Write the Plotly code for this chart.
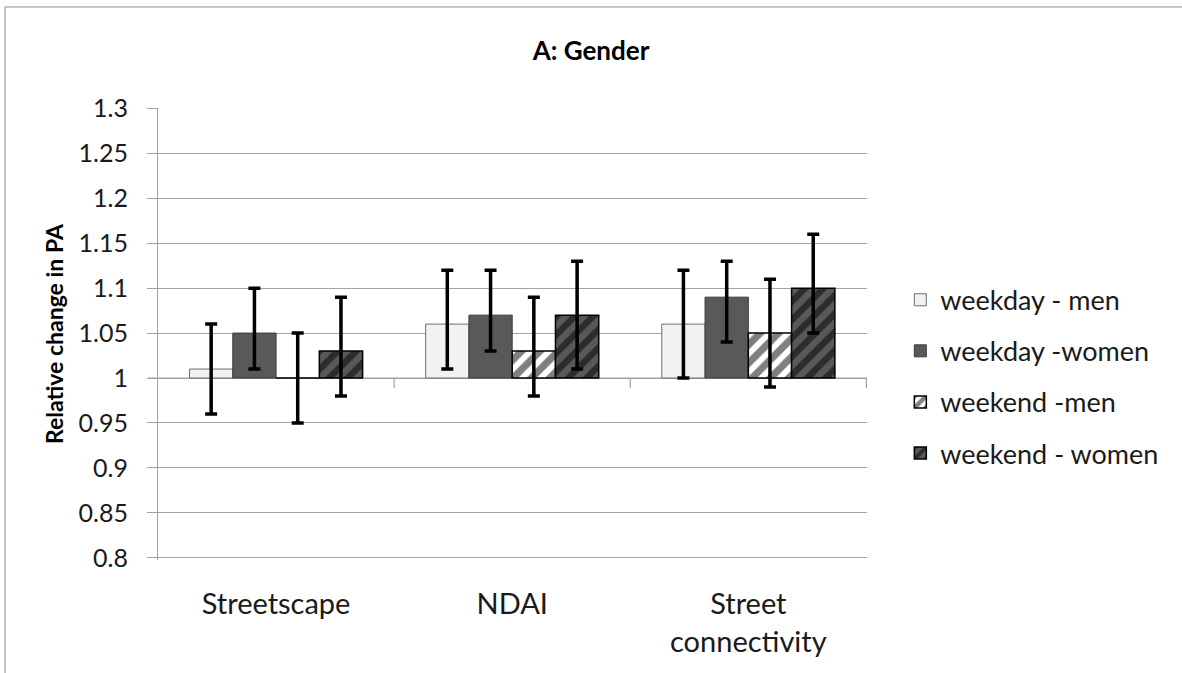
import plotly.graph_objects as go

categories = ["Streetscape", "NDAI", "Street connectivity"]
category_labels = ["Streetscape", "NDAI", "Street<br>connectivity"]

series_names = ["weekday - men", "weekday -women", "weekend -men", "weekend - women"]

weekday_men = [1.01, 1.06, 1.06]
weekday_men_lo = [0.96, 1.01, 1.00]
weekday_men_hi = [1.06, 1.12, 1.12]

weekday_women = [1.05, 1.07, 1.09]
weekday_women_lo = [1.01, 1.03, 1.04]
weekday_women_hi = [1.10, 1.12, 1.13]

weekend_men = [1.00, 1.03, 1.05]
weekend_men_lo = [0.95, 0.98, 0.99]
weekend_men_hi = [1.05, 1.09, 1.11]

weekend_women = [1.03, 1.07, 1.10]
weekend_women_lo = [0.98, 1.01, 1.05]
weekend_women_hi = [1.09, 1.13, 1.16]

y_ticks = [0.8, 0.85, 0.9, 0.95, 1.0, 1.05, 1.1, 1.15, 1.2, 1.25, 1.3]
y_tick_labels = ["0.8", "0.85", "0.9", "0.95", "1", "1.05", "1.1", "1.15", "1.2", "1.25", "1.3"]

BASE = 1.0
FONT = "Lato"
GRID = "#a3a3a3"

styles = [
    dict(color="#f2f2f2", line=dict(color="#6e6e6e", width=1)),
    dict(color="#595959", line=dict(color="#3a3a3a", width=1)),
    dict(color="white", line=dict(color="black", width=1.5),
         pattern=dict(shape="/", fgcolor="black", bgcolor="white", size=13, solidity=0.55)),
    dict(color="#595959", line=dict(color="black", width=1.5),
         pattern=dict(shape="/", fgcolor="black", bgcolor="#595959", size=13, solidity=0.5)),
]

data = [
    (weekday_men, weekday_men_lo, weekday_men_hi),
    (weekday_women, weekday_women_lo, weekday_women_hi),
    (weekend_men, weekend_men_lo, weekend_men_hi),
    (weekend_women, weekend_women_lo, weekend_women_hi),
]

fig = go.Figure()
for i, (name, (vals, lo, hi), st) in enumerate(zip(series_names, data, styles)):
    fig.add_trace(go.Bar(
        name=name,
        x=categories,
        y=[v - BASE for v in vals],
        base=BASE,
        marker=st,
        legendgroup=name,
        error_y=dict(
            type="data", symmetric=False,
            array=[h - v for h, v in zip(hi, vals)],
            arrayminus=[v - l for v, l in zip(vals, lo)],
            color="black", thickness=3.5, width=6,
        ),
    ))

shapes = [
    # outer chart border (left and top edges visible; others fall outside the page)
    dict(type="rect", xref="paper", yref="paper", x0=-0.2158, x1=1.8, y0=-0.5, y1=1.2235,
         line=dict(color="#8c8c8c", width=1), fillcolor="rgba(0,0,0,0)", layer="below"),
    # horizontal category axis at y=1
    dict(type="line", xref="paper", yref="y", x0=-0.0141, x1=1, y0=BASE, y1=BASE,
         line=dict(color=GRID, width=1.2), layer="below"),
]
for b in [0.5, 1.5, 2.5]:
    shapes.append(dict(type="line", xref="x", yref="y", ysizemode="pixel", yanchor=BASE,
                       x0=b, x1=b, y0=0, y1=-10, line=dict(color=GRID, width=1.2)))

fig.update_layout(
    width=1182, height=673,
    margin=dict(l=158, r=315, t=108, b=113),
    paper_bgcolor="white", plot_bgcolor="white",
    barmode="group", bargap=0.267, bargroupgap=0,
    font=dict(family=FONT, color="black"),
    title=dict(text="<b>A: Gender</b>", x=0.5, xanchor="center", y=0.925, yanchor="middle",
               font=dict(family=FONT, size=26, color="black")),
    showlegend=True,
    legend=dict(x=1.047, xanchor="left", y=0.629, yanchor="top",
                font=dict(family=FONT, size=27, color="#1a1a1a"),
                tracegroupgap=13, bgcolor="rgba(0,0,0,0)"),
    shapes=shapes,
    annotations=[dict(text="<b>Relative change in PA</b>", textangle=-90,
                      xref="paper", yref="paper", x=(54 - 158) / 709, y=0.5,
                      xanchor="center", yanchor="middle", showarrow=False,
                      font=dict(family=FONT, size=23, color="black"))],
)
fig.update_xaxes(
    tickvals=categories, ticktext=category_labels,
    showline=False, ticks="", showgrid=False,
    tickfont=dict(family=FONT, size=29, color="#1a1a1a"),
    ticklabelstandoff=24,
)
fig.update_yaxes(
    range=[0.7975, 1.3005], tickvals=y_ticks, ticktext=y_tick_labels,
    showgrid=True, gridcolor=GRID, gridwidth=1.2,
    showline=True, linecolor=GRID, linewidth=1.2,
    ticks="outside", ticklen=10, tickcolor=GRID, tickwidth=1.2,
    tickfont=dict(family=FONT, size=25, color="#1a1a1a"),
    ticklabelstandoff=14, zeroline=False,
)

fig.write_html("out.html", config={"displayModeBar": False},
               post_script="document.body.style.margin='0';document.body.style.overflow='hidden';")
